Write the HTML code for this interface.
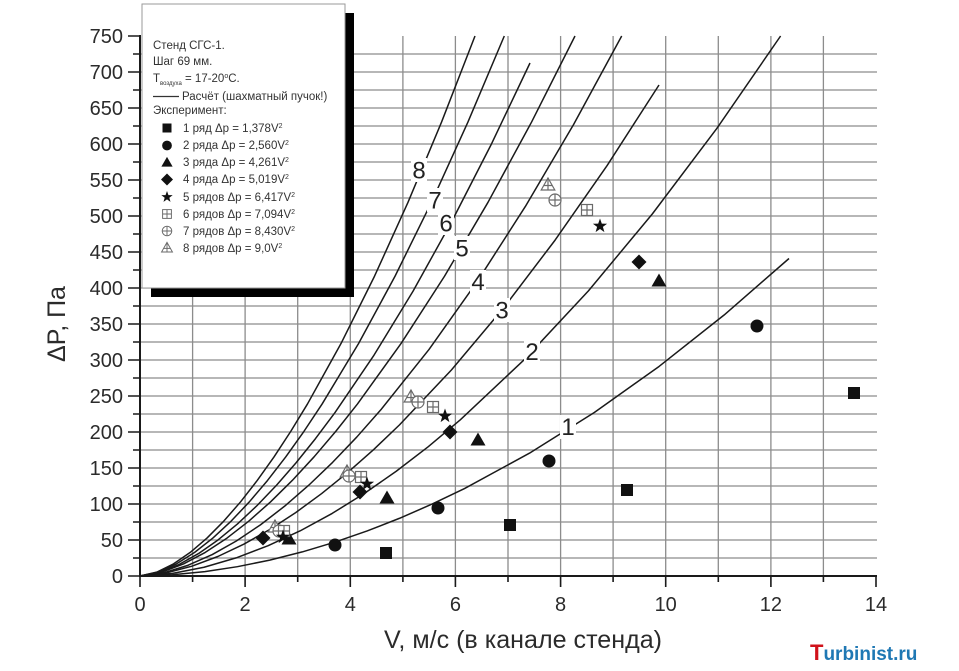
<!DOCTYPE html>
<html><head><meta charset="utf-8"><style>
html,body{margin:0;padding:0;background:#fff;}
svg{display:block;font-family:"Liberation Sans",Arial,sans-serif;}
</style></head><body>
<svg width="959" height="671" viewBox="0 0 959 671" xmlns="http://www.w3.org/2000/svg">
<defs>
<rect id="sq" x="-6" y="-6" width="12" height="12" fill="#111"/>
<circle id="ci" r="6.5" fill="#111"/>
<polygon id="tr" points="0,-7.5 7.5,5.5 -7.5,5.5" fill="#111"/>
<polygon id="di" points="0,-7.5 7.5,0 0,7.5 -7.5,0" fill="#111"/>
<path id="st" d="M0,-7.5 L1.8,-2.4 L7.1,-2.3 L2.9,0.9 L4.4,6.1 L0,3 L-4.4,6.1 L-2.9,0.9 L-7.1,-2.3 L-1.8,-2.4 Z" fill="#111"/>
<g id="h6" fill="#fff" stroke="#6a6a6a" stroke-width="1.2"><rect x="-5.5" y="-5.5" width="11" height="11"/><path d="M0,-5.5V5.5M-5.5,0H5.5" fill="none"/></g>
<g id="h7" fill="#fff" stroke="#6a6a6a" stroke-width="1.2"><circle r="6"/><path d="M0,-6V6M-6,0H6" fill="none"/></g>
<g id="h8" fill="#fff" stroke="#6a6a6a" stroke-width="1.2"><polygon points="0,-7 6.8,5 -6.8,5"/><path d="M0,-7V5M-4.5,0.5H4.5" fill="none"/></g>
</defs>

<!-- grid -->
<path fill="none" stroke="#8c8c8c" stroke-width="1.3" d="
M140,558H877M140,540H877M140,522H877M140,504H877M140,486H877M140,468H877M140,450H877M140,432H877M140,414H877M140,396H877
M140,378H877M140,360H877M140,342H877M140,324H877M140,306H877M140,288H877M140,270H877M140,252H877M140,234H877M140,216H877
M140,198H877M140,180H877M140,162H877M140,144H877M140,126H877M140,108H877M140,90H877M140,72H877M140,54H877
M192.6,36V576M245.1,36V576M297.7,36V576M350.3,36V576M402.9,36V576M455.4,36V576M508,36V576M560.6,36V576
M613.1,36V576M665.7,36V576M718.3,36V576M770.9,36V576M823.4,36V576"/>

<!-- curves -->
<g fill="none" stroke="#1a1a1a" stroke-width="1.5" stroke-linejoin="round">
<polyline points="140,576 172.45,574.79 204.9,571.62 237.35,566.68 269.8,560.09 302.25,551.91 334.7,542.18 367.15,530.94 399.6,518.25 432.05,504.1 464.5,488.53 529.4,453.22 594.3,412.47 659.2,366.34 724.1,315.01 789,258.5"/>
<polyline points="140,576 172.03,573.47 204.06,567.24 236.09,557.9 268.12,545.71 300.15,530.85 332.18,513.42 364.21,493.53 396.24,471.27 428.27,446.68 460.3,419.84 524.36,359.56 588.42,290.84 652.48,213.76 716.54,128.86 780.6,36"/>
<polyline points="140,576 165.95,572.99 191.9,566.2 217.85,556.49 243.8,544.16 269.75,529.49 295.7,512.6 321.65,493.58 347.6,472.6 373.55,449.67 399.5,424.88 451.4,369.97 503.3,308.26 555.2,239.99 607.1,165.55 659,85"/>
<polyline points="140,576 164.09,572.68 188.17,565.23 212.26,554.55 236.34,540.99 260.43,524.85 284.51,506.27 308.6,485.36 332.68,462.28 356.77,437.06 380.85,409.79 429.02,349.41 477.19,281.54 525.36,206.46 573.53,124.59 621.7,36"/>
<polyline points="140,576 161.75,572.14 183.5,563.91 205.25,552.4 227,538.07 248.75,521.17 270.5,501.94 292.25,480.47 314,456.94 335.75,431.38 357.5,403.93 401,343.54 444.5,276.24 488,202.31 531.5,122.19 575,36"/>
<polyline points="140,576 159.5,572.34 179,564.52 198.5,553.58 218,539.97 237.5,523.92 257,505.64 276.5,485.25 296,462.89 315.5,438.61 335,412.54 374,355.16 413,291.23 452,220.99 491,144.89 530,63"/>
<polyline points="140,576 158.22,572.14 176.43,563.91 194.65,552.4 212.86,538.07 231.08,521.17 249.29,501.94 267.51,480.47 285.72,456.94 303.94,431.38 322.15,403.93 358.58,343.54 395.01,276.24 431.44,202.31 467.87,122.19 504.3,36"/>
<polyline points="140,576 156.75,572.14 173.5,563.91 190.25,552.4 207,538.07 223.75,521.17 240.5,501.94 257.25,480.47 274,456.94 290.75,431.38 307.5,403.93 341,343.54 374.5,276.24 408,202.31 441.5,122.19 475,36"/>
</g>

<!-- curve labels -->
<g fill="#fff">
<rect x="411" y="158" width="16" height="24"/>
<rect x="427" y="188" width="16" height="24"/>
<rect x="438" y="211" width="16" height="24"/>
<rect x="454" y="236" width="16" height="24"/>
<rect x="470" y="270" width="16" height="24"/>
<rect x="494" y="298" width="16" height="24"/>
<rect x="524" y="340" width="16" height="24"/>
<rect x="560" y="415" width="16" height="24"/>
</g>
<g font-size="24" fill="#222" text-anchor="middle">
<text x="419" y="178.5">8</text>
<text x="435" y="208.5">7</text>
<text x="446" y="231.5">6</text>
<text x="462" y="256.5">5</text>
<text x="478" y="290">4</text>
<text x="502" y="318.5">3</text>
<text x="532" y="360">2</text>
<text x="568" y="435">1</text>
</g>

<!-- data points -->
<use href="#sq" x="386" y="553"/><use href="#sq" x="510" y="525"/><use href="#sq" x="627" y="490"/><use href="#sq" x="854" y="393"/>
<use href="#ci" x="335" y="545"/><use href="#ci" x="438" y="508"/><use href="#ci" x="549" y="461"/><use href="#ci" x="757" y="326"/>
<use href="#tr" x="289" y="539"/><use href="#tr" x="387" y="498"/><use href="#tr" x="478" y="440"/><use href="#tr" x="659" y="281"/>
<use href="#di" x="263" y="538"/><use href="#di" x="360" y="492"/><use href="#di" x="450" y="432"/><use href="#di" x="639" y="262"/>
<use href="#h8" x="275" y="527"/><use href="#h8" x="347" y="472"/><use href="#h8" x="411" y="397"/><use href="#h8" x="548" y="185"/>
<use href="#h7" x="279" y="531"/><use href="#h7" x="349" y="476"/><use href="#h7" x="418" y="402"/><use href="#h7" x="555" y="200"/>
<use href="#h6" x="284" y="531"/><use href="#h6" x="361" y="477"/><use href="#h6" x="433" y="407"/><use href="#h6" x="587" y="210"/>
<use href="#st" x="283" y="537"/><use href="#st" x="367" y="484"/><use href="#st" x="445" y="416"/><use href="#st" x="600" y="226"/>

<!-- axes -->
<g stroke="#1a1a1a" fill="none">
<path stroke-width="2" d="M140,35V577M139,576H877"/>
<path stroke-width="1.6" d="
M128,36H140M128,72H140M128,108H140M128,144H140M128,180H140M128,216H140M128,252H140M128,288H140M128,324H140M128,360H140M128,396H140M128,432H140M128,468H140M128,504H140M128,540H140M128,576H140
M133,54H140M133,90H140M133,126H140M133,162H140M133,198H140M133,234H140M133,270H140M133,306H140M133,342H140M133,378H140M133,414H140M133,450H140M133,486H140M133,522H140M133,558H140
M140,576V587M245.1,576V587M350.3,576V587M455.4,576V587M560.6,576V587M665.7,576V587M770.9,576V587M876,576V587
M192.6,576V582M297.7,576V582M402.9,576V582M508,576V582M613.1,576V582M718.3,576V582M823.4,576V582"/>
</g>

<!-- y tick labels -->
<g font-size="20" fill="#2b2b2b" text-anchor="end">
<text x="123" y="43">750</text><text x="123" y="79">700</text><text x="123" y="115">650</text><text x="123" y="151">600</text>
<text x="123" y="187">550</text><text x="123" y="223">500</text><text x="123" y="259">450</text><text x="123" y="295">400</text>
<text x="123" y="331">350</text><text x="123" y="367">300</text><text x="123" y="403">250</text><text x="123" y="439">200</text>
<text x="123" y="475">150</text><text x="123" y="511">100</text><text x="123" y="547">50</text><text x="123" y="583">0</text>
</g>
<!-- x tick labels -->
<g font-size="20" fill="#2b2b2b" text-anchor="middle">
<text x="140" y="611">0</text><text x="245.1" y="611">2</text><text x="350.3" y="611">4</text><text x="455.4" y="611">6</text>
<text x="560.6" y="611">8</text><text x="665.7" y="611">10</text><text x="770.9" y="611">12</text><text x="876" y="611">14</text>
</g>

<!-- axis titles -->
<text x="523" y="648" font-size="25" fill="#2b2b2b" text-anchor="middle" textLength="278" lengthAdjust="spacingAndGlyphs">V, м/с (в канале стенда)</text>
<text transform="translate(65,324) rotate(-90)" font-size="25" fill="#2b2b2b" text-anchor="middle">ΔP, Па</text>

<!-- legend -->
<rect x="151" y="13" width="203" height="284" fill="#000"/>
<rect x="142" y="4" width="203" height="284" fill="#fff" stroke="#9a9a9a" stroke-width="1"/>
<g font-size="11.5" fill="#333">
<text x="153" y="49">Стенд СГС-1.</text>
<text x="153" y="65">Шаг 69 мм.</text>
<text x="153" y="82">T<tspan font-size="6" dy="3">воздуха</tspan><tspan dy="-3"> = 17-20</tspan><tspan font-size="7" dy="-4">o</tspan><tspan dy="4">C.</tspan></text>
<text x="182" y="100">Расчёт (шахматный пучок!)</text>
<text x="153" y="114">Эксперимент:</text>
<text x="183" y="132">1 ряд Δp = 1,378V<tspan font-size="7" dy="-4">2</tspan></text>
<text x="183" y="149">2 ряда Δp = 2,560V<tspan font-size="7" dy="-4">2</tspan></text>
<text x="183" y="166">3 ряда Δp = 4,261V<tspan font-size="7" dy="-4">2</tspan></text>
<text x="183" y="183">4 ряда Δp = 5,019V<tspan font-size="7" dy="-4">2</tspan></text>
<text x="183" y="201">5 рядов Δp = 6,417V<tspan font-size="7" dy="-4">2</tspan></text>
<text x="183" y="218">6 рядов Δp = 7,094V<tspan font-size="7" dy="-4">2</tspan></text>
<text x="183" y="235">7 рядов Δp = 8,430V<tspan font-size="7" dy="-4">2</tspan></text>
<text x="183" y="252">8 рядов Δp = 9,0V<tspan font-size="7" dy="-4">2</tspan></text>
</g>
<path d="M153,96.5H179" stroke="#333" stroke-width="1.3"/>
<use href="#sq" transform="translate(167,128) scale(0.75)"/>
<use href="#ci" transform="translate(167,145.5) scale(0.75)"/>
<use href="#tr" transform="translate(167,162.5) scale(0.75)"/>
<use href="#di" transform="translate(167,179.5) scale(0.8)"/>
<use href="#st" transform="translate(167,197) scale(0.8)"/>
<use href="#h6" transform="translate(167,214) scale(0.8)"/>
<use href="#h7" transform="translate(167,231) scale(0.8)"/>
<use href="#h8" transform="translate(167,248) scale(0.8)"/>

<!-- watermark -->
<text x="810" y="660" font-weight="bold" fill="#1f78b4"><tspan font-size="22" fill="#d0121b">T</tspan><tspan font-size="19">urbinist.ru</tspan></text>
</svg>
</body></html>
